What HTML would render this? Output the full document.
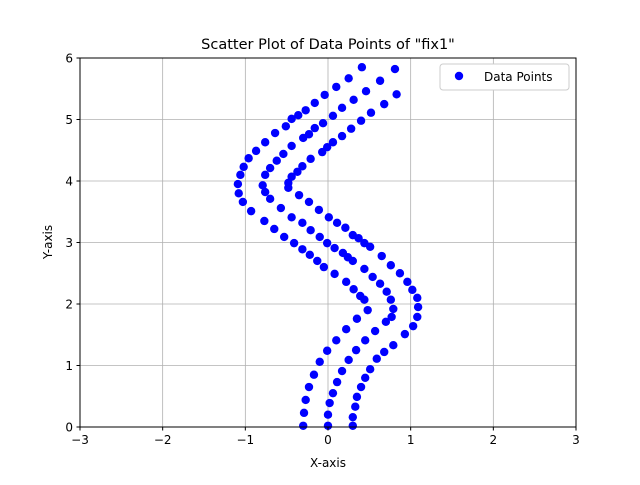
<!DOCTYPE html>
<html><head><meta charset="utf-8"><style>
body{margin:0;background:#fff;font-family:"Liberation Sans","DejaVu Sans",sans-serif}
svg text{font-family:"DejaVu Sans","Liberation Sans",sans-serif}
</style></head><body>
<svg id="chart" width="640" height="480" xmlns="http://www.w3.org/2000/svg">
<rect width="640" height="480" fill="#fff"/>
<text x="328" y="49" font-size="14.5" text-anchor="middle">Scatter Plot of Data Points of "fix1"</text>
<g id="grid"></g><g id="pts"></g><g id="ticks"></g>
<rect x="80" y="58" width="496" height="369" fill="none" stroke="#000" stroke-width="1"/>
<text x="328" y="467" font-size="12" text-anchor="middle">X-axis</text>
<text transform="translate(52,242) rotate(-90)" font-size="12" text-anchor="middle">Y-axis</text>
<g>
<rect x="440" y="64" width="129" height="26" rx="3" fill="#fff" stroke="#ccc"/>
<circle cx="459" cy="76" r="4.2" fill="#0000ff"/>
<text x="484" y="81" font-size="12">Data Points</text>
</g>
</svg>
<script>
const xTicks=[-3,-2,-1,0,1,2,3];
const yTicks=[0,1,2,3,4,5,6];
const leftX=[-0.30,-0.29,-0.27,-0.23,-0.17,-0.10,-0.01,0.10,0.22,0.35,0.48,0.44,0.39,0.31,0.22,0.08,-0.05,-0.13,-0.22,-0.31,-0.41,-0.53,-0.65,-0.77,-0.93,-1.03,-1.08,-1.09,-1.06,-1.02,-0.96,-0.87,-0.76,-0.64,-0.51,-0.44,-0.36,-0.27,-0.16,-0.04,0.10,0.25,0.41];
const leftY=[0.02,0.23,0.44,0.65,0.85,1.06,1.24,1.41,1.59,1.76,1.90,2.07,2.13,2.24,2.36,2.49,2.60,2.70,2.80,2.89,2.99,3.09,3.22,3.35,3.51,3.66,3.80,3.95,4.10,4.23,4.37,4.49,4.63,4.78,4.89,5.01,5.07,5.15,5.27,5.40,5.53,5.67,5.85];
const midX=[0.00,0.00,0.02,0.06,0.11,0.17,0.25,0.34,0.45,0.57,0.70,0.77,0.79,0.76,0.71,0.63,0.54,0.44,0.30,0.24,0.18,0.08,-0.01,-0.10,-0.21,-0.31,-0.44,-0.57,-0.70,-0.76,-0.79,-0.76,-0.70,-0.62,-0.54,-0.44,-0.30,-0.23,-0.16,-0.06,0.06,0.17,0.31,0.46,0.63,0.81];
const midY=[0.02,0.20,0.39,0.55,0.73,0.91,1.09,1.25,1.41,1.56,1.71,1.79,1.92,2.07,2.20,2.33,2.44,2.57,2.70,2.76,2.83,2.91,2.99,3.09,3.20,3.32,3.41,3.56,3.71,3.82,3.93,4.10,4.21,4.33,4.44,4.57,4.70,4.76,4.86,4.94,5.06,5.19,5.32,5.46,5.63,5.82];
const rightX=[0.30,0.30,0.33,0.35,0.40,0.45,0.51,0.59,0.68,0.79,0.93,1.03,1.08,1.09,1.08,1.02,0.96,0.87,0.76,0.65,0.51,0.44,0.37,0.30,0.21,0.11,0.01,-0.11,-0.23,-0.35,-0.48,-0.48,-0.44,-0.37,-0.31,-0.21,-0.07,-0.01,0.06,0.17,0.28,0.40,0.52,0.68,0.83];
const rightY=[0.02,0.16,0.33,0.49,0.65,0.80,0.94,1.11,1.22,1.33,1.51,1.64,1.79,1.95,2.10,2.23,2.36,2.50,2.63,2.78,2.93,2.99,3.07,3.12,3.24,3.32,3.41,3.53,3.66,3.77,3.89,3.97,4.07,4.15,4.24,4.36,4.47,4.55,4.63,4.73,4.85,4.98,5.11,5.25,5.41];
const NS="http://www.w3.org/2000/svg";
const X0=80,X1=576,Y0=427,Y1=58;
function sx(v){return X0+(v+3)/6*(X1-X0);}
function sy(v){return Y0-v/6*(Y0-Y1);}
function mk(t,a,p){const e=document.createElementNS(NS,t);for(const k in a)e.setAttribute(k,a[k]);p.appendChild(e);return e;}
const grid=document.getElementById('grid'),ticks=document.getElementById('ticks'),pts=document.getElementById('pts');
xTicks.forEach(v=>{const x=sx(v);
 const g=mk('line',{x1:x,x2:x,y1:Y1,y2:Y0,stroke:'#b0b0b0','stroke-width':0.8},grid);
 
 
 const t=mk('line',{x1:x,x2:x,y1:Y0,y2:Y0+3.5,stroke:'#000'},ticks);
 
 
 const l=mk('text',{x:x,y:Y0+17,'font-size':12,'text-anchor':'middle'},ticks);l.textContent=(v<0?'\u2212'+(-v):v);
 
 
});
yTicks.forEach(v=>{const y=sy(v);
 const g=mk('line',{x1:X0,x2:X1,y1:y,y2:y,stroke:'#b0b0b0','stroke-width':0.8},grid);
 
 
 const t=mk('line',{x1:X0-3.5,x2:X0,y1:y,y2:y,stroke:'#000'},ticks);
 
 
 const l=mk('text',{x:X0-7,y:y+4.5,'font-size':12,'text-anchor':'end'},ticks);l.textContent=v;
 
 
});
[[leftX,leftY],[midX,midY],[rightX,rightY]].forEach(([xs,ys])=>{
 xs.forEach((v,i)=>{const c=mk('circle',{cx:sx(v),cy:sy(ys[i]),r:4.2,fill:'#0000ff'},pts);
  
  
 });
});
</script>
</body></html>
